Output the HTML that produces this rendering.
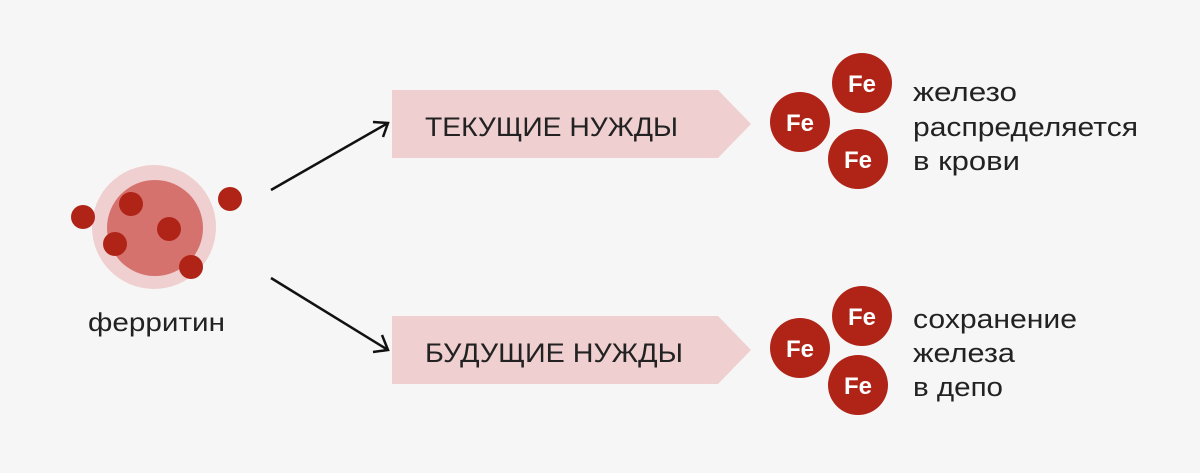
<!DOCTYPE html>
<html><head><meta charset="utf-8"><style>body{margin:0;background:#f6f6f6}</style></head><body>
<svg width="1200" height="468" xmlns="http://www.w3.org/2000/svg" font-family="Liberation Sans, DejaVu Sans, sans-serif">
<rect width="1200" height="468" fill="#f6f6f6"/>
<circle cx="154" cy="227" r="62" fill="#efcfcf"/>
<circle cx="155" cy="228" r="48" fill="#d6726e"/>
<g fill="#b02418">
<circle cx="83" cy="217" r="12"/><circle cx="131" cy="204" r="12"/><circle cx="115" cy="244" r="12"/>
<circle cx="169" cy="229" r="12"/><circle cx="191" cy="267" r="12"/><circle cx="230" cy="199" r="12"/>
</g>
<text x="88" y="331" font-size="26" fill="#222" textLength="137" lengthAdjust="spacingAndGlyphs">ферритин</text>
<g stroke="#111" stroke-width="2.5" fill="none">
<line x1="271" y1="190" x2="388" y2="123"/><polyline points="373,122 388,123 383,137"/>
<line x1="271" y1="278" x2="388" y2="350"/><polyline points="382,335 388,350 373,352"/>
</g>
<polygon points="392,90 718,90 751,124 718,158 392,158" fill="#efcfcf"/>
<polygon points="392,316 718,316 751,350 718,384 392,384" fill="#efcfcf"/>
<text x="425" y="136" font-size="27" fill="#222" textLength="253" lengthAdjust="spacingAndGlyphs">ТЕКУЩИЕ НУЖДЫ</text>
<text x="425" y="362" font-size="27" fill="#222" textLength="258" lengthAdjust="spacingAndGlyphs">БУДУЩИЕ НУЖДЫ</text>
<g fill="#b02418">
<circle cx="800" cy="122" r="30"/><circle cx="862" cy="83" r="30"/><circle cx="858" cy="159" r="30"/>
<circle cx="800" cy="348" r="30"/><circle cx="862" cy="316" r="30"/><circle cx="858" cy="385" r="30"/>
</g>
<g fill="#fff" font-size="24" font-weight="bold" text-anchor="middle">
<text x="800" y="131">Fe</text><text x="862" y="92">Fe</text><text x="858" y="168">Fe</text>
<text x="800" y="357">Fe</text><text x="862" y="325">Fe</text><text x="858" y="394">Fe</text>
</g>
<g font-size="27" fill="#222" lengthAdjust="spacingAndGlyphs">
<text x="913" y="101" textLength="104" lengthAdjust="spacingAndGlyphs">железо</text>
<text x="913" y="136" textLength="225" lengthAdjust="spacingAndGlyphs">распределяется</text>
<text x="913" y="170" textLength="107" lengthAdjust="spacingAndGlyphs">в крови</text>
<text x="913" y="328" textLength="164" lengthAdjust="spacingAndGlyphs">сохранение</text>
<text x="913" y="362" textLength="102" lengthAdjust="spacingAndGlyphs">железа</text>
<text x="913" y="396" textLength="90" lengthAdjust="spacingAndGlyphs">в депо</text>
</g>
</svg>
</body></html>
